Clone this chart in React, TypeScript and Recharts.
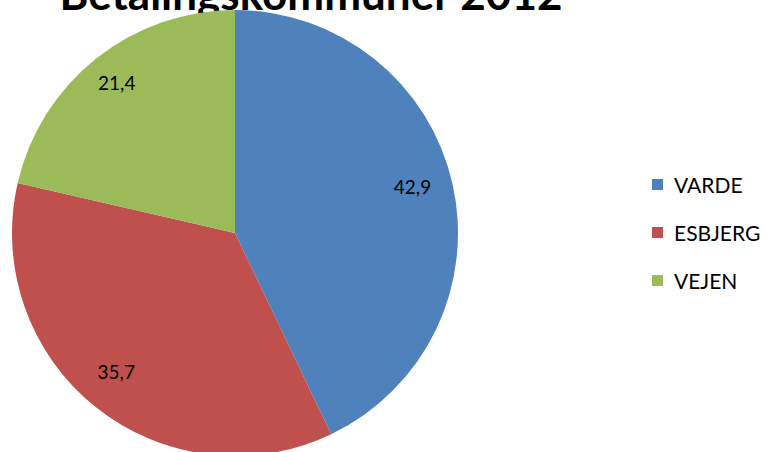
import { PieChart, Pie, Cell, Legend, Customized } from 'recharts';

const kommuner = ['VARDE', 'ESBJERG', 'VEJEN'];
const andele = [42.9, 35.7, 21.4];
const farver = ['#4F81BD', '#C0504D', '#9BBB59'];

const data = kommuner.map((name, i) => ({ name, value: andele[i], fill: farver[i] }));

const RADIAN = Math.PI / 180;
const fmt = (v: number) => v.toFixed(1).replace('.', ',');

const renderLabel = (props: any) => {
  const { cx, cy, midAngle, outerRadius, value } = props;
  const r = outerRadius * 0.83;
  const x = cx + r * Math.cos(-midAngle * RADIAN) - 3;
  const y = cy + r * Math.sin(-midAngle * RADIAN) - 6;
  return (
    <text x={x} y={y} textAnchor="middle" dominantBaseline="central" fill="#000" fontSize={19} fontFamily="Lato, sans-serif">
      {fmt(value)}
    </text>
  );
};

const renderLegend = () => (
  <div style={{ fontFamily: 'Lato, sans-serif', fontSize: 21, color: '#000' }}>
    {data.map((d) => (
      <div key={d.name} style={{ display: 'flex', alignItems: 'center', height: 48 }}>
        <span style={{ display: 'inline-block', width: 11, height: 11, background: d.fill, marginRight: 11 }} />
        <span>{d.name}</span>
      </div>
    ))}
  </div>
);

const App = () => {
  return (
    <div style={{ position: 'absolute', left: 0, top: 0, width: 770, height: 452, overflow: 'hidden', background: '#fff' }}>
      <PieChart width={770} height={452} margin={{ top: 0, right: 0, bottom: 0, left: 0 }}>
        <Customized
          component={() => (
            <text x={311} y={10} textAnchor="middle" fontSize={44} fontWeight="bold" fontFamily="Lato, sans-serif" fill="#000">
              Betalingskommuner 2012
            </text>
          )}
        />
        <Pie
          data={data}
          dataKey="value"
          nameKey="name"
          cx={235}
          cy={233}
          outerRadius={223}
          startAngle={90}
          endAngle={-270}
          stroke="none"
          label={renderLabel}
          labelLine={false}
          isAnimationActive={false}
        >
          {data.map((entry, index) => (
            <Cell key={`cell-${index}`} fill={entry.fill} />
          ))}
        </Pie>
        <Legend
          layout="vertical"
          verticalAlign="top"
          align="right"
          content={renderLegend}
          wrapperStyle={{ left: 652, top: 160, width: 118 }}
        />
      </PieChart>
    </div>
  );
};

export default App;
